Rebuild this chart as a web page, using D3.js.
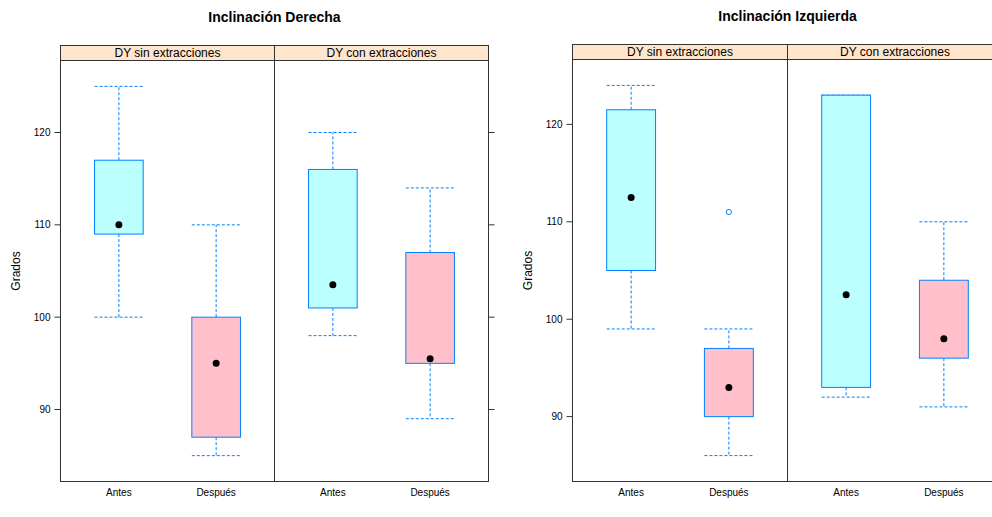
<!DOCTYPE html>
<html>
<head>
<meta charset="utf-8">
<script src="https://cdn.jsdelivr.net/npm/d3@7"></script>
<style>
  body { margin: 0; background: #fff; }
  svg { display: block; font-family: "Liberation Sans", Arial, Helvetica, sans-serif; }
</style>
</head>
<body>
<svg id="chart" width="992" height="517"></svg>
<script>
// categories / panels
const categories = ["Antes", "Después"];
const panels = ["DY sin extracciones", "DY con extracciones"];
const boxColors = ["#bbffff", "#ffc0cb"];

// box stats per category: [lower whisker, Q1, median, Q3, upper whisker]
const derSinExtr = [[100, 109, 110, 117, 125], [85, 87, 95, 100, 110]];
const derConExtr = [[98, 101, 103.5, 116, 120], [89, 95, 95.5, 107, 114]];
const izqSinExtr = [[99, 105, 112.5, 121.5, 124], [86, 90, 93, 97, 99]];
const izqConExtr = [[92, 93, 102.5, 123, 123], [91, 96, 98, 104, 110]];

// outliers: [panel index, category index, value]
const derOutliers = [];
const izqOutliers = [[0, 1, 111]];

const derRange = [85, 125];
const izqRange = [86, 124];
const yTicks = [90, 100, 110, 120];

const svg = d3.select("#chart");

function drawFigure(opt) {
  const g = svg.append("g");
  const pw = opt.panelW;
  const left = opt.left;
  const top = opt.stripTop + opt.stripH;
  const bottom = opt.bottom;

  // lattice-style 7% padding
  const pad = (opt.range[1] - opt.range[0]) * 0.07;
  const y = d3.scaleLinear()
    .domain([opt.range[0] - pad, opt.range[1] + pad])
    .range([bottom, top]);

  g.append("text")
    .attr("x", left + pw)
    .attr("y", opt.titleY)
    .attr("text-anchor", "middle")
    .style("font-size", "14px")
    .style("font-weight", "bold")
    .text(opt.title);

  g.append("text")
    .attr("transform", `translate(${opt.labelX},${(top + bottom) / 2}) rotate(-90)`)
    .attr("text-anchor", "middle")
    .style("font-size", "12px")
    .text("Grados");

  // left y axis
  const axisL = g.append("g");
  yTicks.forEach(t => {
    axisL.append("line")
      .attr("x1", left - 6).attr("x2", left)
      .attr("y1", y(t)).attr("y2", y(t))
      .attr("stroke", "#333");
    axisL.append("text")
      .attr("x", left - 10).attr("y", y(t))
      .attr("dy", "0.35em")
      .attr("text-anchor", "end")
      .style("font-size", "10px")
      .text(t);
  });
  // right ticks
  yTicks.forEach(t => {
    g.append("line")
      .attr("x1", left + 2 * pw).attr("x2", left + 2 * pw + 6)
      .attr("y1", y(t)).attr("y2", y(t))
      .attr("stroke", "#333");
  });

  panels.forEach((name, p) => {
    const px = left + p * pw;
    const x = d3.scalePoint()
      .domain(categories)
      .range([px + pw * 0.6 / 2.2, px + pw * 1.6 / 2.2]);
    const bw = pw * 0.5 / 2.2;

    // strip
    g.append("rect")
      .attr("x", px).attr("y", opt.stripTop)
      .attr("width", pw).attr("height", opt.stripH)
      .attr("fill", "#ffe5cc")
      .attr("stroke", "#333");
    g.append("text")
      .attr("x", px + pw / 2).attr("y", opt.stripTop + opt.stripH / 2)
      .attr("dy", "0.36em")
      .attr("text-anchor", "middle")
      .style("font-size", "12px")
      .text(name);

    const stats = opt.stats[p];
    stats.forEach((s, i) => {
      const cx = x(categories[i]);
      const [lo, q1, med, q3, hi] = s;
      const wg = g.append("g")
        .attr("stroke", "#0080ff")
        .attr("stroke-dasharray", "3,2")
        .attr("fill", "none");
      wg.append("line").attr("x1", cx).attr("x2", cx).attr("y1", y(q3)).attr("y2", y(hi));
      wg.append("line").attr("x1", cx).attr("x2", cx).attr("y1", y(q1)).attr("y2", y(lo));
      wg.append("line").attr("x1", cx - bw / 2).attr("x2", cx + bw / 2).attr("y1", y(hi)).attr("y2", y(hi));
      wg.append("line").attr("x1", cx - bw / 2).attr("x2", cx + bw / 2).attr("y1", y(lo)).attr("y2", y(lo));

      g.append("rect")
        .attr("x", cx - bw / 2).attr("y", y(q3))
        .attr("width", bw).attr("height", y(q1) - y(q3))
        .attr("fill", boxColors[i])
        .attr("stroke", "#0080ff");

      g.append("circle")
        .attr("cx", cx).attr("cy", y(med))
        .attr("r", 3.5)
        .attr("fill", "#000");
    });

    opt.outliers.filter(o => o[0] === p).forEach(o => {
      g.append("circle")
        .attr("cx", x(categories[o[1]])).attr("cy", y(o[2]))
        .attr("r", 2.6)
        .attr("fill", "none")
        .attr("stroke", "#0080ff");
    });

    // panel border
    g.append("rect")
      .attr("x", px).attr("y", top)
      .attr("width", pw).attr("height", bottom - top)
      .attr("fill", "none")
      .attr("stroke", "#333");

    categories.forEach(c => {
      g.append("text")
        .attr("x", x(c)).attr("y", bottom + 14)
        .attr("text-anchor", "middle")
        .style("font-size", "10px")
        .text(c);
    });
  });
}

drawFigure({
  title: "Inclinación Derecha",
  titleY: 22, labelX: 20,
  left: 60.5, panelW: 214, stripTop: 45.5, stripH: 15, bottom: 481.5,
  range: derRange,
  stats: [derSinExtr, derConExtr],
  outliers: derOutliers
});

drawFigure({
  title: "Inclinación Izquierda",
  titleY: 21, labelX: 532,
  left: 572.5, panelW: 215, stripTop: 44.5, stripH: 15, bottom: 481.5,
  range: izqRange,
  stats: [izqSinExtr, izqConExtr],
  outliers: izqOutliers
});
</script>
</body>
</html>
